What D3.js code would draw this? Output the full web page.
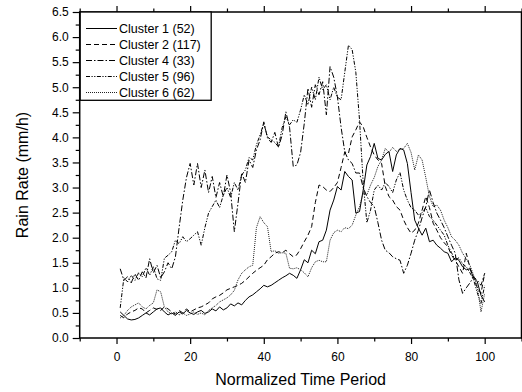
<!DOCTYPE html>
<html><head><meta charset="utf-8">
<script src="https://cdn.jsdelivr.net/npm/d3@7"></script>
<style>body{margin:0;background:#fff;} text{font-family:"Liberation Sans",Arial,sans-serif;fill:#000;}</style>
</head><body><svg id="c" width="522" height="392"></svg>
<script>
const timeSteps = d3.range(1, 101);
const cluster1 = [0.52,0.45,0.38,0.36,0.37,0.40,0.45,0.50,0.46,0.52,0.58,0.60,0.52,0.46,0.50,0.45,0.52,0.48,0.55,0.50,
0.47,0.52,0.55,0.49,0.52,0.58,0.54,0.62,0.56,0.60,0.68,0.64,0.70,0.66,0.75,0.82,0.86,0.92,0.98,1.05,
1.02,1.05,1.10,1.15,1.20,1.24,1.29,1.25,1.19,1.36,1.56,1.50,1.75,1.68,1.92,1.95,2.15,2.55,2.75,3.02,
2.95,3.32,3.22,3.15,2.49,2.52,2.95,3.45,3.62,3.88,3.58,3.55,3.66,3.72,3.32,3.65,3.78,3.75,3.48,2.90,
2.35,2.19,2.05,2.19,1.92,1.95,1.85,1.79,1.72,1.69,1.52,1.60,1.55,1.42,1.36,1.38,1.20,1.12,0.85,0.72];
const cluster2 = [0.45,0.40,0.48,0.52,0.55,0.60,0.58,0.50,0.55,0.60,0.57,0.55,0.62,0.58,0.52,0.48,0.55,0.50,0.58,0.52,
0.56,0.60,0.62,0.66,0.70,0.78,0.82,0.85,0.90,0.96,0.99,1.02,1.05,1.09,1.15,1.22,1.29,1.35,1.40,1.45,
1.56,1.62,1.69,1.72,1.70,1.75,1.68,1.62,1.66,1.78,1.92,2.05,2.22,2.70,3.05,3.02,2.95,2.92,3.00,3.10,
3.40,3.71,3.68,4.01,4.15,4.31,4.21,4.00,3.81,3.65,3.55,3.48,3.02,2.82,2.75,2.62,2.55,2.35,2.20,2.09,
2.15,2.29,2.55,2.82,2.60,2.29,2.15,2.00,1.90,1.82,1.65,1.55,1.42,1.29,1.69,1.40,1.20,1.00,0.89,1.29];
const cluster4 = [1.38,1.15,1.22,1.10,1.28,1.15,1.32,1.20,1.58,1.30,1.45,1.20,1.32,1.50,1.38,1.62,2.20,2.75,3.20,3.48,
3.05,3.48,3.00,3.35,2.90,3.22,2.80,3.10,2.82,3.25,2.90,2.12,2.69,3.29,3.10,3.55,3.40,3.75,3.95,4.31,
3.99,3.90,4.10,3.80,4.05,4.51,4.20,3.42,3.45,3.70,4.28,4.98,4.60,5.05,4.85,5.11,4.45,5.41,5.20,4.81,
4.20,3.71,3.55,3.48,3.29,3.29,3.00,2.82,2.70,2.62,2.30,1.95,1.75,1.70,1.62,1.58,1.55,1.29,1.45,1.69,
1.95,2.15,2.40,2.62,2.95,2.70,2.49,2.35,2.20,2.02,1.85,1.69,1.16,0.89,1.00,1.10,1.22,1.15,1.05,1.29];
const cluster5 = [0.60,1.20,1.12,1.25,1.15,1.30,1.22,1.40,1.25,1.42,1.18,1.15,1.59,1.65,1.72,1.95,1.88,2.02,1.92,1.98,
2.05,2.12,1.85,2.20,2.49,2.62,2.75,2.60,2.85,3.00,2.80,3.10,2.95,3.25,3.35,3.60,3.55,3.85,4.05,4.28,
4.01,3.95,3.90,3.81,4.20,4.41,4.25,4.35,4.30,4.55,4.85,4.65,5.00,4.75,5.20,4.95,5.05,4.75,5.00,4.80,
4.75,5.30,5.84,5.75,5.30,4.35,3.10,2.30,2.55,2.95,3.05,2.95,3.10,3.02,2.90,3.15,3.30,2.95,2.75,2.60,
2.55,2.45,2.50,2.60,2.42,2.35,2.25,2.15,2.05,1.85,1.70,1.55,1.60,1.48,1.42,1.30,1.16,0.90,0.69,1.05];
const cluster6 = [0.40,0.45,0.55,0.62,0.66,0.70,0.62,0.58,0.65,0.70,0.96,0.92,0.62,0.52,0.48,0.52,0.46,0.50,0.45,0.48,
0.52,0.47,0.50,0.46,0.55,0.60,0.65,0.72,0.76,0.80,0.86,0.95,1.16,1.29,1.36,1.42,1.45,2.20,2.42,2.30,
2.22,1.72,1.74,1.69,1.70,1.69,1.39,1.38,1.40,1.36,1.30,1.22,1.40,1.52,1.55,1.52,1.52,1.95,2.10,2.15,
2.12,2.20,2.18,2.25,2.45,2.62,2.89,2.85,3.05,3.20,3.42,3.55,3.78,3.70,3.80,3.72,3.76,3.78,3.88,3.70,
3.35,3.65,3.55,3.20,2.82,2.62,2.65,2.55,2.35,2.20,2.02,1.95,1.85,1.69,1.58,1.45,1.25,1.02,0.52,0.89];
const seriesNames = ["Cluster 1 (52)","Cluster 2 (117)","Cluster 4 (33)","Cluster 5 (96)","Cluster 6 (62)"];
const seriesValues = [cluster1, cluster2, cluster4, cluster5, cluster6];
const xMajorTicks = [0,20,40,60,80,100];
const xMinorTicks = [-10,10,30,50,70,90,110];
const yMajorTicks = [0,0.5,1,1.5,2,2.5,3,3.5,4,4.5,5,5.5,6,6.5];
const yMinorTicks = [0.25,0.75,1.25,1.75,2.25,2.75,3.25,3.75,4.25,4.75,5.25,5.75,6.25];

const styles = [
  {dash:null, stroke:"#000"},
  {dash:"5,3", stroke:"#000"},
  {dash:"6,2,1.5,2", stroke:"#000"},
  {dash:"4,1.5,1.2,1.5,1.2,1.5", stroke:"#000"},
  {dash:"1,1", stroke:"#222"}
];

const svg = d3.select("#c");
const L = 79.7, R = 521.5, T = 12, B = 338;
const x = d3.scaleLinear().domain([-10,110]).range([L,R]);
const y = d3.scaleLinear().domain([0,6.5]).range([B,T]);

// data lines
const line = d3.line().x((d,i)=>x(timeSteps[i])).y(d=>y(d));
seriesValues.forEach((vals,k)=>{
  svg.append("path").datum(vals).attr("d",line)
    .attr("fill","none").attr("stroke",styles[k].stroke).attr("stroke-width",1)
    .attr("stroke-dasharray",styles[k].dash);
});

function styleAxis(g){ g.select(".domain").remove(); g.selectAll("line").attr("stroke","#000").attr("stroke-width",1.2); g.selectAll("text").style("font-size","12px").attr("fill","#000"); }

svg.append("g").attr("transform",`translate(0,${B})`)
  .call(d3.axisBottom(x).tickValues(xMajorTicks).tickSize(6).tickPadding(8).tickFormat(d3.format("d"))).call(styleAxis);
svg.append("g").attr("transform",`translate(0,${B})`)
  .call(d3.axisBottom(x).tickValues(xMinorTicks).tickSize(3.5).tickFormat("")).call(styleAxis);
svg.append("g").attr("transform",`translate(0,${T})`)
  .call(d3.axisTop(x).tickValues(xMajorTicks).tickSize(6).tickFormat("")).call(styleAxis);
svg.append("g").attr("transform",`translate(0,${T})`)
  .call(d3.axisTop(x).tickValues(xMinorTicks).tickSize(3.5).tickFormat("")).call(styleAxis);
svg.append("g").attr("transform",`translate(${L},0)`)
  .call(d3.axisLeft(y).tickValues(yMajorTicks).tickSize(7).tickPadding(4).tickFormat(d3.format(".1f"))).call(styleAxis);
svg.append("g").attr("transform",`translate(${L},0)`)
  .call(d3.axisLeft(y).tickValues(yMinorTicks).tickSize(4).tickFormat("")).call(styleAxis);
svg.append("g").attr("transform",`translate(${R},0)`)
  .call(d3.axisRight(y).tickValues(yMajorTicks).tickSize(7).tickFormat("")).call(styleAxis);

// frame
svg.append("rect").attr("x",L).attr("y",T).attr("width",R-L).attr("height",B-T)
  .attr("fill","none").attr("stroke","#000").attr("stroke-width",1.5);

// legend
const lg = svg.append("g");
lg.append("rect").attr("x",L+0.5).attr("y",T).attr("width",131).attr("height",88.3)
  .attr("fill","#fff").attr("stroke","#000").attr("stroke-width",1.3);
seriesNames.forEach((n,k)=>{
  const cy = 28.5 + k*16;
  lg.append("line").attr("x1",86).attr("x2",117).attr("y1",cy).attr("y2",cy)
    .attr("stroke",styles[k].stroke).attr("stroke-width",1).attr("stroke-dasharray",styles[k].dash);
  lg.append("text").attr("x",119).attr("y",cy).attr("dy","0.36em").style("font-size","12.5px").text(n);
});

// titles
svg.append("text").attr("x",(L+R)/2).attr("y",385).attr("text-anchor","middle").style("font-size","16px").text("Normalized Time Period");
svg.append("text").attr("transform",`translate(28,${(T+B)/2}) rotate(-90)`).attr("text-anchor","middle").style("font-size","16px").text("Rain Rate (mm/h)");
</script></body></html>
